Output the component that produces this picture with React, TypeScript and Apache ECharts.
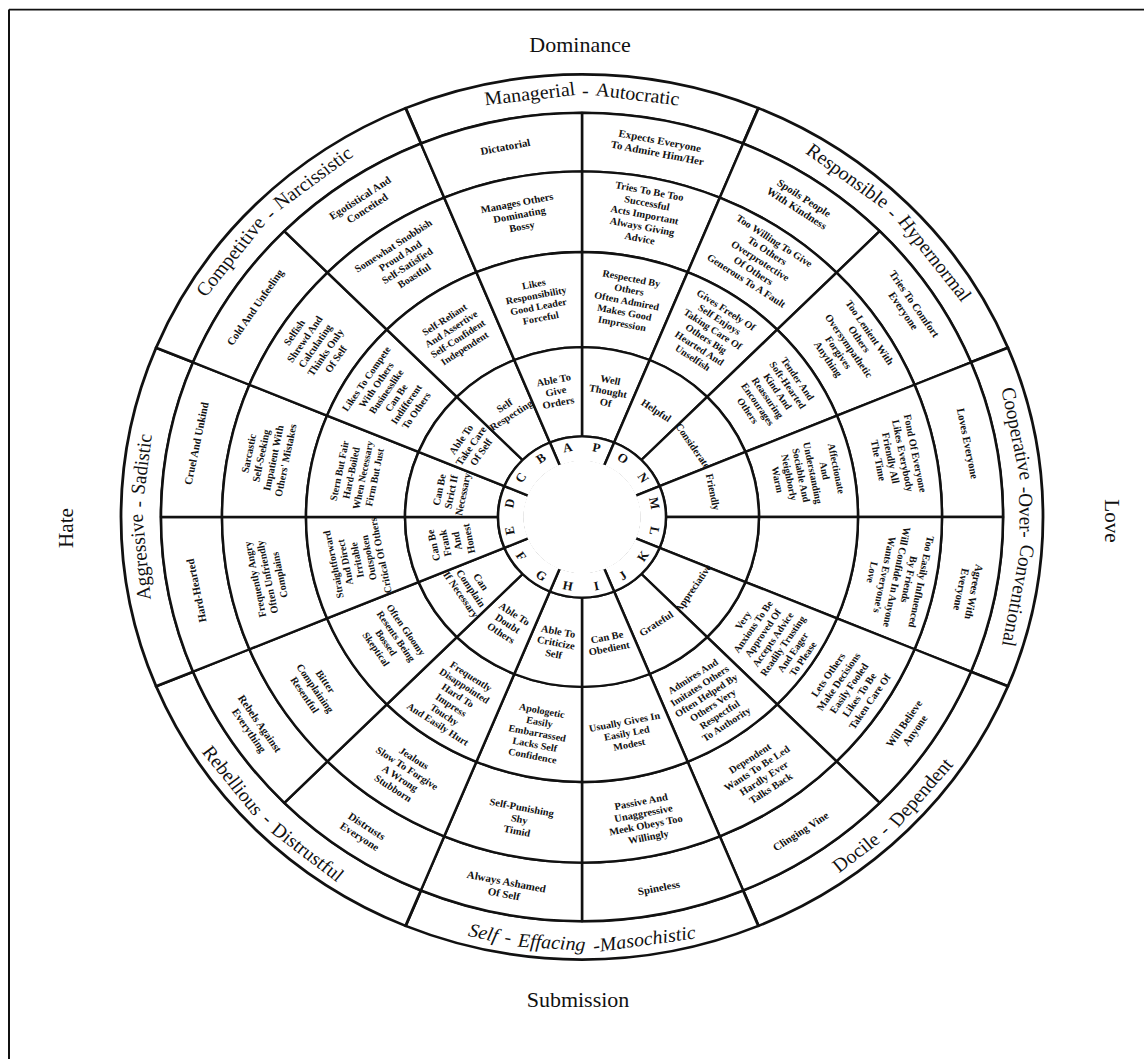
import React, { useEffect, useRef } from 'react';
import * as echarts from 'echarts';

// ---------------- data ----------------
const letters = ['P', 'O', 'N', 'M', 'L', 'K', 'J', 'I', 'H', 'G', 'F', 'E', 'D', 'C', 'B', 'A'];

const octantNames = [
  'Managerial - Autocratic',
  'Responsible - Hypernormal',
  'Cooperative -Over- Conventional',
  'Docile - Dependent',
  'Self - Effacing -Masochistic',
  'Rebellious - Distrustful',
  'Aggressive - Sadistic',
  'Competitive - Narcissistic',
];

const extremeTraits = [
  'Expects Everyone\nTo Admire Him/Her',
  'Spoils People\nWith Kindness',
  'Tries To Comfort\nEveryone',
  'Loves Everyone',
  'Agrees With\nEveryone',
  'Will Believe\nAnyone',
  'Clinging Vine',
  'Spineless',
  'Always Ashamed\nOf Self',
  'Distrusts\nEveryone',
  'Rebels Against\nEverything',
  'Hard-Hearted',
  'Cruel And Unkind',
  'Cold And Unfeeling',
  'Egotistical And\nConceited',
  'Dictatorial',
];

const strongTraits = [
  'Tries To Be Too\nSuccessful\nActs Important\nAlways Giving\nAdvice',
  'Too Willing To Give\nTo Others\nOverprotective\nOf Others\nGenerous To A Fault',
  'Too Lenient With\nOthers\nOversympathetic\nForgives\nAnything',
  'Fond Of Everyone\nLikes Everybody\nFriendly All\nThe Time',
  'Too Easily Influenced\nBy Friends\nWill Confide In Anyone\nWants Everyone\'s\nLove',
  'Lets Others\nMake Decisions\nEasily Fooled\nLikes To Be\nTaken Care Of',
  'Dependent\nWants To Be Led\nHardly Ever\nTalks Back',
  'Passive And\nUnaggressive\nMeek Obeys Too\nWillingly',
  'Self-Punishing\nShy\nTimid',
  'Jealous\nSlow To Forgive\nA Wrong\nStubborn',
  'Bitter\nComplaining\nResentful',
  'Frequently Angry\nOften Unfriendly\nComplains',
  'Sarcastic\nSelf-Seeking\nImpatient With\nOthers\' Mistakes',
  'Selfish\nShrewd And\nCalculating\nThinks Only\nOf Self',
  'Somewhat Snobbish\nProud And\nSelf-Satisfied\nBoastful',
  'Manages Others\nDominating\nBossy',
];

const moderateTraits = [
  'Respected By\nOthers\nOften Admired\nMakes Good\nImpression',
  'Gives Freely Of\nSelf Enjoys\nTaking Care Of\nOthers Big\nHearted And\nUnselfish',
  'Tender And\nSoft-Hearted\nKind And\nReassuring\nEncourages\nOthers',
  'Affectionate\nAnd\nUnderstanding\nSociable And\nNeighborly\nWarm',
  'Eager To Get Along\nWith Others\nAlways Pleasant\nAnd Agreeable\nWants Everyone\nTo Like Him/Her',
  'Very\nAnxious To Be\nApproved Of\nAccepts Advice\nReadily Trusting\nAnd Eager\nTo Please',
  'Admires And\nImitates Others\nOften Helped By\nOthers Very\nRespectful\nTo Authority',
  'Usually Gives In\nEasily Led\nModest',
  'Apologetic\nEasily\nEmbarrassed\nLacks Self\nConfidence',
  'Frequently\nDisappointed\nHard To\nImpress\nTouchy\nAnd Easily Hurt',
  'Often Gloomy\nResents Being\nBossed\nSkeptical',
  'Straightforward\nAnd Direct\nIrritable\nOutspoken\nCritical Of Others',
  'Stern But Fair\nHard-Boiled\nWhen Necessary\nFirm But Just',
  'Likes To Compete\nWith Others\nBusinesslike\nCan Be\nIndifferent\nTo Others',
  'Self-Reliant\nAnd Assertive\nSelf-Confident\nIndependent',
  'Likes\nResponsibility\nGood Leader\nForceful',
];

const mildTraits = [
  'Well\nThought\nOf',
  'Helpful',
  'Considerate',
  'Friendly',
  'Cooperative',
  'Appreciative',
  'Grateful',
  'Can Be\nObedient',
  'Able To\nCriticize\nSelf',
  'Able To\nDoubt\nOthers',
  'Can\nComplain\nIf Necessary',
  'Can Be\nFrank\nAnd\nHonest',
  'Can Be\nStrict If\nNecessary',
  'Able To\nTake Care\nOf Self',
  'Self\nRespecting',
  'Able To\nGive\nOrders',
];

const axisLabels = { top: 'Dominance', bottom: 'Submission', left: 'Hate', right: 'Love' };

// ---------------- layout ----------------
const W = 1144;
const SY = 0.96; // the scanned wheel is slightly squashed vertically
const H = Math.round(1059 / SY);
const CX = 582;
const CY = 517 / SY;
const CENTER: [number, number] = [CX, CY];
const R_OUT = 461;
const R_OCT = 421;
const R_2 = 360;
const R_3 = 276;
const R_4 = 177;
const R_L = 84;
const R_TICK = 57;
const SERIF = 'Liberation Serif';
const OCT_FS = 20;
const LINE = '#111';

// rotation (echarts degrees, CCW positive) keeping the text readable, tangential
function rotFor(theta: number): number {
  const t = ((theta % 360) + 360) % 360;
  let cw: number;
  if (t > 112.5 && t < 247.5) cw = t - 180;
  else if (t >= 247.5) cw = t - 360;
  else cw = t;
  return -cw;
}

let measureCtx: CanvasRenderingContext2D | null = null;
function measure(text: string, font: string): number {
  if (!measureCtx) measureCtx = document.createElement('canvas').getContext('2d');
  if (!measureCtx) return text.length * 9;
  measureCtx.font = font;
  return measureCtx.measureText(text).width;
}

function ringSeries(texts: string[], r0: number, r1: number, fontSize: number, lineHeight: number) {
  return {
    type: 'pie',
    center: CENTER,
    radius: [r0, r1],
    startAngle: 90,
    clockwise: true,
    silent: true,
    avoidLabelOverlap: false,
    emphasis: { disabled: true },
    itemStyle: { color: '#ffffff', borderColor: LINE, borderWidth: 2.5 },
    label: {
      show: true,
      position: 'inside',
      formatter: '{b}',
      color: '#111',
      fontFamily: SERIF,
      fontWeight: 'bold',
      fontSize,
      lineHeight,
      align: 'center',
    },
    labelLine: { show: false },
    data: texts.map((t, k) => ({ value: 1, name: t, label: { rotate: rotFor(22.5 * k + 11.25) } })),
    z: 2,
  };
}

function octantTextData() {
  const rMid = (R_OCT + R_OUT) / 2;
  const toDeg = (px: number) => (px / rMid) * (180 / Math.PI);
  const out: any[] = [];
  octantNames.forEach((name, i) => {
    const italic = i === 4;
    const font = `${italic ? 'italic ' : ''}${OCT_FS}px "${SERIF}"`;
    let words = name.split(' ');
    const bottom = i >= 3 && i <= 5;
    if (bottom) words = words.slice().reverse();
    const spDeg = toDeg(measure(' ', font) * 1.3);
    const wDeg = words.map((w) => toDeg(measure(w, font)));
    const total = wDeg.reduce((a, b) => a + b, 0) + spDeg * (words.length - 1);
    const gap = (45 - total) / 2;
    let cursor = 45 * i - 22.5;
    out.push({ value: gap, name: '', label: { show: false } });
    cursor += gap;
    words.forEach((w, j) => {
      if (j > 0) {
        out.push({ value: spDeg, name: '', label: { show: false } });
        cursor += spDeg;
      }
      const mid = cursor + wDeg[j] / 2;
      out.push({
        value: wDeg[j],
        name: w,
        label: { show: true, rotate: rotFor(mid), fontStyle: italic ? 'italic' : 'normal' },
      });
      cursor += wDeg[j];
    });
    out.push({ value: gap, name: '', label: { show: false } });
  });
  return out;
}

function buildOption() {
  const octBorders = {
    type: 'pie',
    center: CENTER,
    radius: [R_OCT, R_OUT],
    startAngle: 112.5,
    silent: true,
    emphasis: { disabled: true },
    itemStyle: { color: '#ffffff', borderColor: LINE, borderWidth: 2.8 },
    label: { show: false },
    labelLine: { show: false },
    data: octantNames.map((n) => ({ value: 1, name: n })),
    z: 2,
  };
  const octText = {
    type: 'pie',
    center: CENTER,
    radius: [R_OCT, R_OUT],
    startAngle: 112.5,
    silent: true,
    avoidLabelOverlap: false,
    emphasis: { disabled: true },
    itemStyle: { color: 'rgba(0,0,0,0)', borderWidth: 0 },
    label: {
      show: true,
      position: 'inside',
      formatter: '{b}',
      color: '#111',
      fontFamily: SERIF,
      fontSize: OCT_FS,
    },
    labelLine: { show: false },
    data: octantTextData(),
    z: 3,
  };
  const letterTicks = {
    type: 'pie',
    center: CENTER,
    radius: [R_TICK, R_L],
    startAngle: 112.5,
    silent: true,
    emphasis: { disabled: true },
    itemStyle: { color: '#ffffff', borderColor: LINE, borderWidth: 2.5 },
    label: { show: false },
    labelLine: { show: false },
    data: octantNames.map((n) => ({ value: 1, name: n })),
    z: 2,
  };
  const hub = {
    type: 'pie',
    center: CENTER,
    radius: [0, R_TICK + 1.8],
    silent: true,
    emphasis: { disabled: true },
    itemStyle: { color: '#ffffff', borderWidth: 0 },
    label: { show: false },
    labelLine: { show: false },
    data: [{ value: 1, name: 'hub' }],
    z: 3,
  };
  const letterRing = {
    type: 'pie',
    center: CENTER,
    radius: [R_TICK, R_L],
    startAngle: 90,
    silent: true,
    avoidLabelOverlap: false,
    emphasis: { disabled: true },
    itemStyle: { color: 'rgba(0,0,0,0)', borderWidth: 0 },
    label: {
      show: true,
      position: 'inside',
      formatter: '{b}',
      color: '#111',
      fontFamily: SERIF,
      fontWeight: 'bold',
      fontSize: 13,
    },
    labelLine: { show: false },
    data: letters.map((l, k) => ({ value: 1, name: l, label: { rotate: rotFor(22.5 * k + 11.25) } })),
    z: 4,
  };

  const cardinalFont = `22px "${SERIF}"`;
  const txt = (text: string, x: number, y: number, rotation: number) => ({
    type: 'text',
    x,
    y,
    rotation,
    style: {
      text,
      font: cardinalFont,
      fill: '#111',
      textAlign: 'center',
      textVerticalAlign: 'middle',
      align: 'center',
      verticalAlign: 'middle',
    },
    z: 10,
  });

  return {
    animation: false,
    backgroundColor: '#ffffff',
    graphic: {
      elements: [
        { type: 'line', shape: { x1: 9, y1: 10, x2: W, y2: 10 }, style: { stroke: '#111', lineWidth: 2 } },
        { type: 'line', shape: { x1: 9, y1: 10, x2: 9, y2: H }, style: { stroke: '#111', lineWidth: 2 } },
        txt(axisLabels.top, 580, 45 / SY, 0),
        txt(axisLabels.bottom, 578, 1000 / SY, 0),
        txt(axisLabels.left, 66, 528 / SY, Math.PI / 2),
        txt(axisLabels.right, 1112, 521 / SY, -Math.PI / 2),
      ],
    },
    series: [
      octBorders,
      ringSeries(extremeTraits, R_2, R_OCT, 11, 13),
      ringSeries(strongTraits, R_3, R_2, 10.5, 12.5),
      ringSeries(moderateTraits, R_4, R_3, 10.2, 12),
      ringSeries(mildTraits, R_L, R_4, 10.5, 12),
      letterTicks,
      hub,
      octText,
      letterRing,
    ],
  };
}

export default function App() {
  const ref = useRef<HTMLDivElement>(null);
  useEffect(() => {
    if (!ref.current) return;
    const chart = echarts.init(ref.current, null, { renderer: 'svg', width: W, height: H });
    chart.setOption(buildOption() as any);
    return () => chart.dispose();
  }, []);
  return (
    <div
      style={{
        position: 'fixed',
        left: 0,
        top: 0,
        width: W,
        height: 1059,
        overflow: 'hidden',
        background: '#fff',
      }}
    >
      <div
        ref={ref}
        style={{ width: W, height: H, transform: `scaleY(${SY})`, transformOrigin: '0 0' }}
      />
    </div>
  );
}
